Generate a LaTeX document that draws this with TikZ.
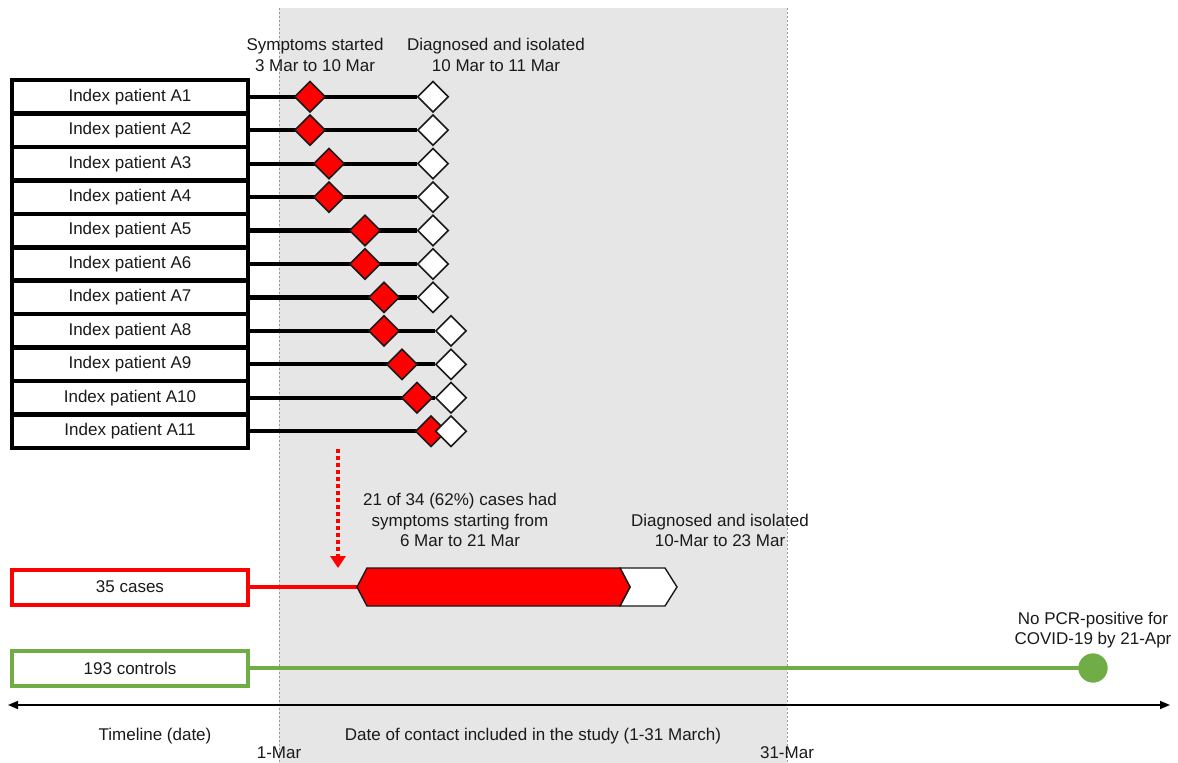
\documentclass[tikz,border=0pt]{standalone}
\usepackage{fontspec}
\setmainfont{Liberation Sans}
\usetikzlibrary{shapes.geometric,arrows.meta}
\definecolor{myred}{HTML}{FF0000}
\definecolor{mygreen}{HTML}{70AD47}
\definecolor{bggray}{HTML}{E6E6E6}
\definecolor{txt}{HTML}{1A1A1A}
\definecolor{dashgray}{HTML}{9A9A9A}
\begin{document}
\begin{tikzpicture}[x=1pt,y=-1pt,
  lbl/.style={font=\fontsize{17}{20.5}\selectfont, text=txt, align=center, inner sep=0pt},
  pbox/.style={draw=black, line width=4.5pt, fill=white, minimum width=236pt, minimum height=33.45pt, inner sep=0pt, font=\fontsize{17}{20}\selectfont, text=txt},
  gbox/.style={pbox, minimum height=35pt, line width=4pt},
  conn/.style={line width=4.2pt, black},
  rdia/.style={diamond, draw=black!90, line width=1.6pt, fill=myred, minimum width=31pt, minimum height=31pt, inner sep=0pt},
  wdia/.style={rdia, fill=white},
  gridline/.style={dashgray, line width=0.8pt, dash pattern=on 2pt off 2pt},
]
\useasboundingbox (0,0) rectangle (1178,763);
\fill[white] (0,0) rectangle (1178,763);
% study period background
\fill[bggray] (279,8) rectangle (787,763);
\coordinate (g1t) at (279,8); \coordinate (g1b) at (279,763);
\coordinate (g2t) at (787,8); \coordinate (g2b) at (787,763);
\draw[gridline] (g1t) -- (g1b);
\draw[gridline] (g2t) -- (g2b);

% index patient boxes
\foreach \i in {1,...,11}{
  \pgfmathsetmacro\yy{80+33.45*(\i-0.5)}
  \node[pbox] (A\i) at (130,\yy) {Index patient A\i};
}
% diamond positions
\foreach \i/\sx/\dx in {1/310/433,2/310/433,3/329/433,4/329/433,5/365/433,6/365/433,7/384/433,8/384/451,9/402/451,10/417/451,11/431/451}{
  \pgfmathsetmacro\yy{80+33.45*(\i-0.5)}
  \coordinate (sp\i) at (\sx,\yy);
  \coordinate (dp\i) at (\dx,\yy);
}
\foreach \i in {1,...,11}{
  \node[wdia, draw=none, fill=none] (d\i) at (dp\i) {};
  \draw[conn] (A\i.east) -- (d\i.west);
}
\foreach \i in {1,...,11}{
  \node[rdia] (s\i) at (sp\i) {};
}
\foreach \i in {1,...,11}{
  \node[wdia] at (dp\i) {};
}

% labels top
\node[lbl] (lsym) at (315,55) {Symptoms started\\3 Mar to 10 Mar};
\node[lbl] (ldia) at (496,55) {Diagnosed and isolated\\10 Mar to 11 Mar};

% dotted red arrow
\coordinate (arrS) at (338,449);
\coordinate (arrE) at (338,568);
\draw[myred, line width=4pt, dash pattern=on 4pt off 3pt, -{Triangle[length=12pt,width=15pt]}] (arrS) -- (arrE);

% cases
\node[lbl] (lcase) at (460,520) {21 of 34 (62\%) cases had\\symptoms starting from\\6 Mar to 21 Mar};
\node[lbl] (ldia2) at (720,530.5) {Diagnosed and isolated\\10-Mar to 23 Mar};
\node[gbox, draw=myred] (cases) at (130,587) {35 cases};
\coordinate (hexL) at (357,587);
\draw[myred, line width=4pt] (cases.east) -- (hexL);
\draw[black!90, line width=1.4pt, fill=white] (620,568) -- (665,568) -- (677,587) -- (665,606) -- (620,606) -- (630,587) -- cycle;
\draw[black!90, line width=1.4pt, fill=myred] (hexL) -- (367,568) -- (620,568) -- (630,587) -- (620,606) -- (367,606) -- cycle;

% controls
\node[gbox, draw=mygreen] (controls) at (130,668) {193 controls};
\node[circle, fill=mygreen, minimum size=29pt, inner sep=0pt] (endc) at (1093,668) {};
\draw[mygreen, line width=4pt] (controls.east) -- (endc.center);
\node[circle, fill=mygreen, minimum size=29pt, inner sep=0pt] at (1093,668) {};
\node[lbl] (lpcr) at (1093,630) {No PCR-positive for\\COVID-19 by 21-Apr};

% timeline
\coordinate (tL) at (8,705);
\coordinate (tR) at (1170,705);
\draw[black, line width=1.6pt, {Triangle[length=10pt,width=8pt]}-{Triangle[length=10pt,width=8pt]}] (tL) -- (tR);
\node[lbl] (ltime) at (155,736) {Timeline (date)};
\node[lbl] (lstudy) at (533,736) {Date of contact included in the study (1-31 March)};
\node[lbl] (lm1) at (279,753) {1-Mar};
\node[lbl] (lm31) at (787,753) {31-Mar};
\end{tikzpicture}
\end{document}
